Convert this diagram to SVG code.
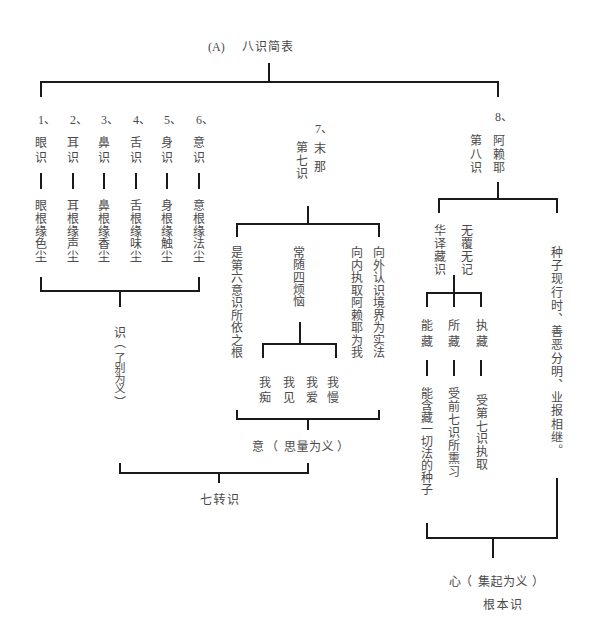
<svg xmlns="http://www.w3.org/2000/svg" width="608" height="640" viewBox="0 0 608 640">
<style>
.t{font-family:"Noto Sans CJK SC","Noto Sans",sans-serif;font-size:12px;fill:#4a4a4a}
.v{writing-mode:vertical-rl}
.n{font-family:"Liberation Serif","Noto Sans CJK SC",serif;font-size:12px;fill:#4a4a4a}
.c path{fill:none;stroke:#1a1a1a;stroke-width:2}
</style>
<rect width="608" height="640" fill="#fff"/>
<g class="c" id="connectors">
<path d="M269 63V82M41 97V82H498V97"/>
<path d="M41 173V189M73 173V189M104 173V189M136 173V189M167 173V189M199 173V189"/>
<path d="M41 277V291H199V277M120 291V307"/>
<path d="M308 206V224M237 237V224H379V237"/>
<path d="M300 322V344M263 358V344H336V358"/>
<path d="M237 410V419H379V410M308 419V430"/>
<path d="M120 463V473H308V463M219 473V483"/>
<path d="M498 182V199M439 213V199H557V213"/>
<path d="M454 275V307M427 307V293H481V307"/>
<path d="M427 360V376M454 360V376M481 360V376"/>
<path d="M427 523V538H557V478M493 538V558"/>
</g>
<g id="title"><text class="n" x="208" y="51">(A)</text><text class="t" x="242" y="51" letter-spacing="1">八识简表</text></g>
<g id="n1"><text class="n" x="38" y="124">1<tspan class="t">、</tspan></text><text class="t v" x="41" y="136.5" letter-spacing="3">眼识</text><text class="t v" x="41" y="199.5" letter-spacing="0.75">眼根缘色尘</text></g>
<g id="n2"><text class="n" x="70" y="124">2<tspan class="t">、</tspan></text><text class="t v" x="73" y="136.5" letter-spacing="3">耳识</text><text class="t v" x="73" y="199.5" letter-spacing="0.75">耳根缘声尘</text></g>
<g id="n3"><text class="n" x="101" y="124">3<tspan class="t">、</tspan></text><text class="t v" x="104" y="136.5" letter-spacing="3">鼻识</text><text class="t v" x="104" y="199.5" letter-spacing="0.75">鼻根缘香尘</text></g>
<g id="n4"><text class="n" x="133" y="124">4<tspan class="t">、</tspan></text><text class="t v" x="136" y="136.5" letter-spacing="3">舌识</text><text class="t v" x="136" y="199.5" letter-spacing="0.75">舌根缘味尘</text></g>
<g id="n5"><text class="n" x="164" y="124">5<tspan class="t">、</tspan></text><text class="t v" x="167" y="136.5" letter-spacing="3">身识</text><text class="t v" x="167" y="199.5" letter-spacing="0.75">身根缘触尘</text></g>
<g id="n6"><text class="n" x="196" y="124">6<tspan class="t">、</tspan></text><text class="t v" x="199" y="136.5" letter-spacing="3">意识</text><text class="t v" x="199" y="199.5" letter-spacing="0.75">意根缘法尘</text></g>
<g id="shi"><text class="t v" x="120" y="326.5">识</text><text class="t v" x="120" y="336">（</text><text class="t v" x="120" y="352" style="font-size:11px" letter-spacing="-0.5">了别为义</text><text class="t v" x="120" y="396">）</text></g>
<g id="n7"><text class="n" x="315" y="133">7<tspan class="t">、</tspan></text><text class="t v" x="320" y="142.5" letter-spacing="6">末那</text><text class="t v" x="302" y="141.5" letter-spacing="1">第七识</text></g>
<g id="n7a"><text class="t v" x="237" y="246.5" letter-spacing="0.5">是第六意识所依之根</text></g>
<g id="n7b"><text class="t v" x="299" y="246.5" letter-spacing="0.25">常随四烦恼</text></g>
<g id="n7c"><text class="t v" x="357" y="246.5" letter-spacing="0.5">向内执取阿赖耶为我</text></g>
<g id="n7d"><text class="t v" x="379" y="246.5" letter-spacing="0.5">向外认识境界为实法</text></g>
<g id="n7e"><text class="t v" x="265" y="376.5" letter-spacing="3">我痴</text><text class="t v" x="289" y="376.5" letter-spacing="3">我见</text><text class="t v" x="312" y="376.5" letter-spacing="3">我爱</text><text class="t v" x="333" y="376.5" letter-spacing="3">我慢</text></g>
<g id="yi"><text class="t" y="451"><tspan x="252">意</tspan><tspan x="266">（</tspan><tspan x="284" letter-spacing="0.5">思量为义</tspan><tspan x="337">）</tspan></text></g>
<g id="qizhuan"><text class="t" x="200" y="504" letter-spacing="1.5">七转识</text></g>
<g id="n8"><text class="n" x="495" y="121">8<tspan class="t">、</tspan></text><text class="t v" x="499" y="134.5" letter-spacing="1.5">阿赖耶</text><text class="t v" x="476" y="134.5" letter-spacing="1.5">第八识</text></g>
<g id="n8a"><text class="t v" x="440" y="224.5" letter-spacing="1">华译藏识</text><text class="t v" x="467" y="224.5" letter-spacing="1">无覆无记</text></g>
<g id="n8b"><text class="t v" x="427" y="319.5" letter-spacing="4">能藏</text><text class="t v" x="427" y="387.5" letter-spacing="0">能含藏一切法的种子</text></g>
<g id="n8c"><text class="t v" x="454" y="319.5" letter-spacing="4">所藏</text><text class="t v" x="454" y="387.5" letter-spacing="1">受前七识所熏习</text></g>
<g id="n8d"><text class="t v" x="482" y="319.5" letter-spacing="4">执藏</text><text class="t v" x="482" y="394.5" letter-spacing="0.8">受第七识执取</text></g>
<g id="n8e"><text class="t v" x="557" y="246.5" letter-spacing="1.2">种子现行时、善恶分明、业报相继。</text></g>
<g id="xin"><text class="t" y="586"><tspan x="449">心</tspan><tspan x="460">（</tspan><tspan x="478" letter-spacing="0.5">集起为义</tspan><tspan x="532">）</tspan></text><text class="t" x="483" y="609" letter-spacing="1.5">根本识</text></g>
</svg>
